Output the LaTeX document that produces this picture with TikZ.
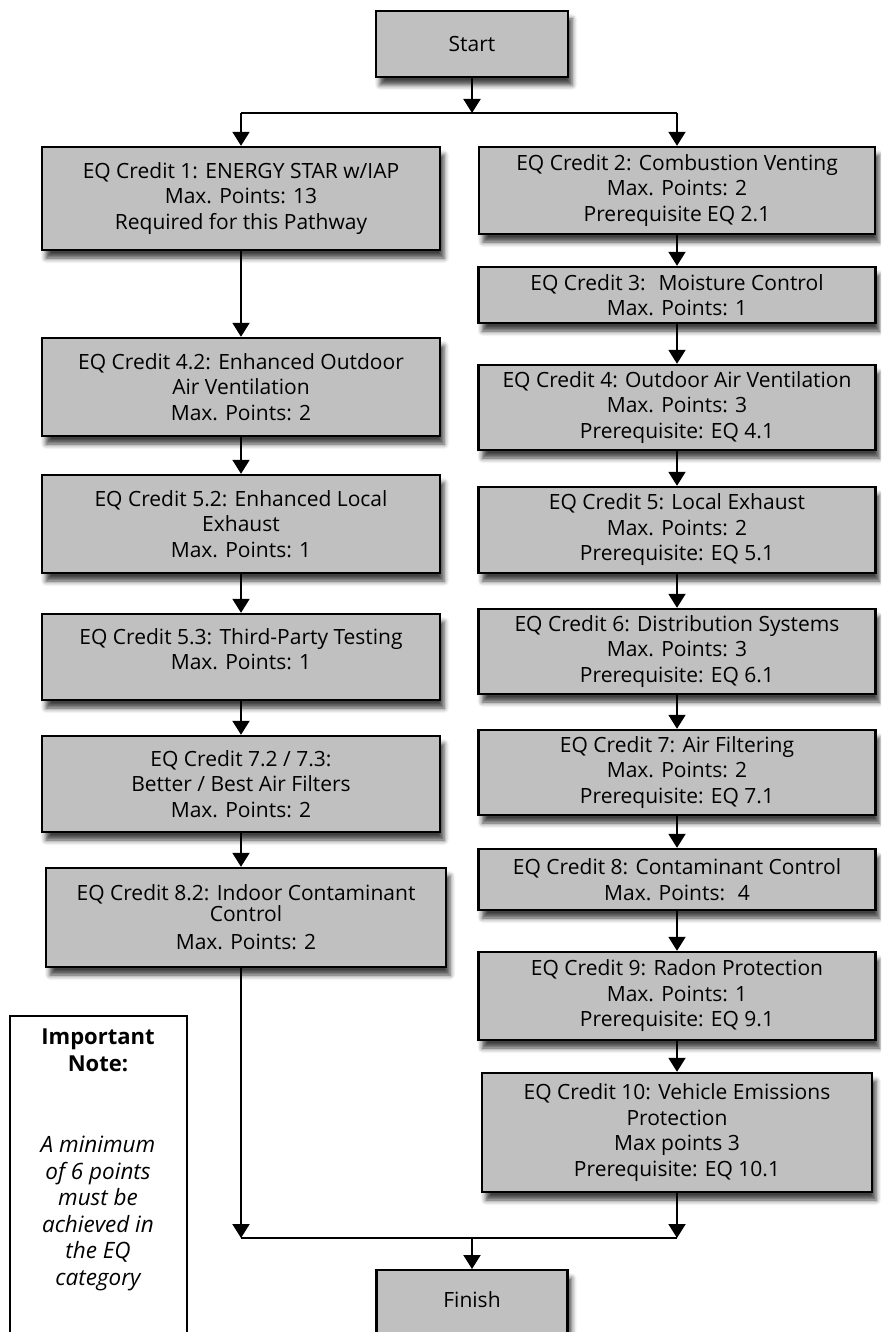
\documentclass[tikz,border=0pt]{standalone}
\usepackage{fontspec}
\setmainfont{Open Sans}
\usetikzlibrary{arrows.meta,shadows.blur}
\definecolor{boxgray}{RGB}{192,192,192}

\begin{document}
\begin{tikzpicture}[x=1pt,y=-1pt,
  box/.style={draw=black, line width=2.4pt, fill=boxgray, align=center,
    inner sep=0pt, font=\fontsize{21}{25.5}\selectfont,
    blur shadow={shadow xshift=4pt, shadow yshift=-8pt,
      shadow blur radius=5pt, shadow opacity=75}},
  link/.style={line width=2pt},
  arr/.style={link, -{Triangle[width=17pt,length=14pt]}},
  notetext/.style={align=center, inner sep=0pt},
]
\useasboundingbox (0,0) rectangle (881,1332);
\clip (0,0) rectangle (881,1332);

% column axes and junction points
\coordinate (cL) at (241,0);
\coordinate (cR) at (677,0);
\coordinate (topL) at (241,113);
\coordinate (topR) at (677,113);
\coordinate (botL) at (241,1238);
\coordinate (botR) at (677,1238);
\coordinate (botM) at (472,1238);

% start / finish
\node[box, minimum width=192pt, minimum height=66pt] (start) at (472,44) {Start};
\node[box, minimum width=191pt, minimum height=72pt, anchor=north] (finish) at (472,1269) {};
\node[font=\fontsize{21}{25}\selectfont, inner sep=0pt] (finishtxt) at (472,1300) {Finish};

% left column
\node[box, minimum width=398pt, minimum height=103pt] (eq1) at (241,198.5)
  {EQ Credit 1: ENERGY STAR w/IAP\\Max. Points: 13\\Required for this Pathway};
\node[box, minimum width=398pt, minimum height=98pt] (eq42) at (241,387)
  {EQ Credit 4.2: Enhanced Outdoor\\Air Ventilation\\Max. Points: 2};
\node[box, minimum width=398pt, minimum height=98pt] (eq52) at (241,524)
  {EQ Credit 5.2: Enhanced Local\\Exhaust\\Max. Points: 1};
\node[box, minimum width=398pt, minimum height=86pt] (eq53) at (241,657)
  {EQ Credit 5.3: Third-Party Testing\\Max. Points: 1\\[-10pt]\mbox{}};
\node[box, minimum width=398pt, minimum height=96pt] (eq72) at (241,784)
  {EQ Credit 7.2 / 7.3:\\Better / Best Air Filters\\Max. Points: 2};
\node[box, minimum width=400pt, minimum height=99pt] (eq82) at (246,917.5)
  {EQ Credit 8.2: Indoor Contaminant\\[-5pt]Control\\[3pt]Max. Points: 2};

% right column
\node[box, minimum width=396pt, minimum height=87pt] (eq2) at (677,190.5)
  {EQ Credit 2: Combustion Venting\\Max. Points: 2\\Prerequisite EQ 2.1};
\node[box, minimum width=397pt, minimum height=56pt] (eq3) at (677,295)
  {EQ Credit 3:~ Moisture Control\\Max. Points: 1};
\node[box, minimum width=397pt, minimum height=85pt] (eq4) at (677,407.5)
  {EQ Credit 4: Outdoor Air Ventilation\\Max. Points: 3\\Prerequisite: EQ 4.1};
\node[box, minimum width=397pt, minimum height=86pt] (eq5) at (677,530)
  {EQ Credit 5: Local Exhaust\\Max. Points: 2\\Prerequisite: EQ 5.1};
\node[box, minimum width=397pt, minimum height=85pt] (eq6) at (677,651.5)
  {EQ Credit 6: Distribution Systems\\Max. Points: 3\\Prerequisite: EQ 6.1};
\node[box, minimum width=397pt, minimum height=85pt] (eq7) at (677,772.5)
  {EQ Credit 7: Air Filtering\\Max. Points: 2\\Prerequisite: EQ 7.1};
\node[box, minimum width=397pt, minimum height=61pt] (eq8) at (677,879.5)
  {EQ Credit 8: Contaminant Control\\Max. Points:~ 4};
\node[box, minimum width=397pt, minimum height=88pt] (eq9) at (677,996)
  {EQ Credit 9: Radon Protection\\Max. Points: 1\\Prerequisite: EQ 9.1};
\node[box, minimum width=390pt, minimum height=119pt] (eq10) at (677,1132.5)
  {EQ Credit 10: Vehicle Emissions\\Protection\\Max points 3\\Prerequisite: EQ 10.1};

% note box
\node[draw=black, line width=1.6pt, fill=white, minimum width=177pt,
  minimum height=340pt, anchor=north west] (note) at (9,1015) {};
\node[notetext, font=\bfseries\fontsize{22}{27}\selectfont] (notehead) at (98,1050.5)
  {Important\\Note:};
\node[notetext, font=\itshape\fontsize{22.5}{26.6}\selectfont] (notebody) at (98,1213.5)
  {A minimum\\of 6 points\\must be\\achieved in\\the EQ\\category};

% top split
\draw[arr] (start.south) -- (start.south |- topL);
\draw[link] (topL) -- (topR);
\draw[arr] (topL) -- (eq1.north -| cL);
\draw[arr] (topR) -- (eq2.north -| cR);

% left chain
\draw[arr] (eq1.south -| cL) -- (eq42.north -| cL);
\draw[arr] (eq42.south -| cL) -- (eq52.north -| cL);
\draw[arr] (eq52.south -| cL) -- (eq53.north -| cL);
\draw[arr] (eq53.south -| cL) -- (eq72.north -| cL);
\draw[arr] (eq72.south -| cL) -- (eq82.north -| cL);
\draw[arr] (eq82.south -| cL) -- (botL);

% right chain
\draw[arr] (eq2.south -| cR) -- (eq3.north -| cR);
\draw[arr] (eq3.south -| cR) -- (eq4.north -| cR);
\draw[arr] (eq4.south -| cR) -- (eq5.north -| cR);
\draw[arr] (eq5.south -| cR) -- (eq6.north -| cR);
\draw[arr] (eq6.south -| cR) -- (eq7.north -| cR);
\draw[arr] (eq7.south -| cR) -- (eq8.north -| cR);
\draw[arr] (eq8.south -| cR) -- (eq9.north -| cR);
\draw[arr] (eq9.south -| cR) -- (eq10.north -| cR);
\draw[arr] (eq10.south -| cR) -- (botR);

% merge
\draw[link] (botL) -- (botR);
\draw[arr] (botM) -- (finish.north);
\end{tikzpicture}
\end{document}
